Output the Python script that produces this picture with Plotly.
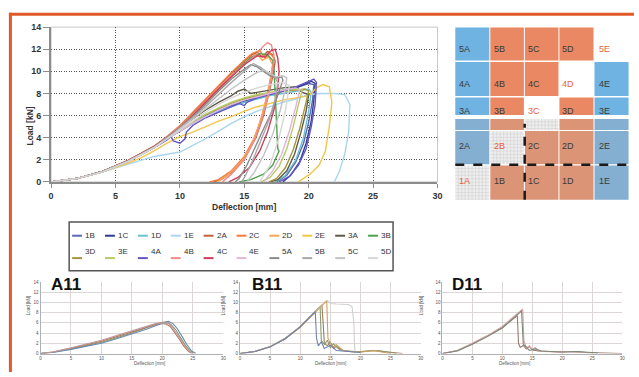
import plotly.graph_objects as go

W, H = 639, 377


def fx(px):
    return px / W


def fy(py):
    return 1 - py / H


# ---------------- main chart data (Deflection [mm], Load [kN]) ----------------
names = ["1B", "1C", "1D", "1E", "2A", "2C", "2D", "2E", "3A", "3B",
         "3D", "3E", "4A", "4B", "4C", "4E", "5A", "5B", "5C", "5D"]
colors = ["#5b67b9", "#2e3b8f", "#68c3cf", "#a9d5f0", "#c45f3c", "#f27c3c", "#f6a65a", "#f2c64a", "#5e5a4a", "#4ea24e",
          "#a6963c", "#b6cb62", "#6456c6", "#f28b8b", "#cc3f5c", "#e2b6d8", "#8a8a8a", "#a8a8a8", "#c2c2c2", "#d6d6d6"]

x_1B = [0, 2, 4, 6, 8, 9, 10, 11, 12, 13, 14, 15, 16, 17, 18, 19, 20, 20.4, 20.3, 20.0, 19.6, 19.0, 18.3, 17.5]
y_1B = [0, 0.3, 0.95, 1.9, 3.15, 3.95, 4.7, 5.4, 6.0, 6.5, 6.9, 7.2, 7.6, 7.9, 8.2, 8.5, 8.9, 8.8, 7.4, 5.4, 3.5, 1.8, 0.6, 0]
x_1C = [0, 2, 4, 6, 8, 9, 10, 11, 12, 13, 14, 15, 16, 17, 18, 19, 19.6, 20.2, 20.5, 20.4, 20.2, 19.8, 19.3, 18.6, 18.0]
y_1C = [0, 0.3, 0.9, 1.85, 3.1, 3.9, 4.6, 5.3, 5.9, 6.4, 6.9, 7.3, 7.7, 8.0, 8.3, 8.5, 8.8, 9.1, 8.9, 7.4, 5.5, 3.5, 1.8, 0.6, 0]
x_1D = [0, 2, 4, 6, 8, 9, 10, 11, 12, 13, 14, 15, 16, 17, 18, 19, 20, 20.2, 20.0, 19.6, 19.0, 18.2, 17.4]
y_1D = [0, 0.3, 0.95, 1.9, 3.15, 3.9, 4.6, 5.3, 5.9, 6.4, 6.8, 7.2, 7.5, 7.8, 8.0, 8.2, 8.4, 8.1, 6.4, 4.0, 2.0, 0.6, 0]
x_1E = [0, 2, 4, 6, 7, 8, 9, 10, 11, 12, 13, 14, 15, 16, 17, 18, 19, 20, 21, 22, 22.8, 23.2, 23.1, 22.8, 22.4, 22.0]
y_1E = [0, 0.3, 0.9, 1.6, 2.0, 2.3, 2.5, 2.7, 3.3, 3.9, 4.6, 5.3, 5.9, 6.4, 6.8, 7.2, 7.5, 7.9, 8.0, 8.0, 7.9, 7.0, 4.5, 2.5, 1.0, 0]
x_2A = [0, 2, 4, 6, 8, 9, 10, 11, 12, 13, 14, 15, 15.6, 16.0, 16.4, 16.8, 17.2, 17.4, 17.2, 16.9, 16.5, 15.9, 15.1, 14.2, 13.2, 12.6]
y_2A = [0, 0.3, 0.95, 1.95, 3.2, 4.05, 5.0, 6.2, 7.4, 8.6, 9.8, 10.9, 11.5, 11.7, 11.3, 11.8, 11.5, 10.9, 9.5, 8.0, 6.0, 4.0, 2.3, 1.0, 0.2, 0]
x_2C = [0, 2, 4, 6, 8, 9, 10, 11, 12, 13, 14, 15, 15.6, 16.2, 16.6, 17.0, 17.3, 17.1, 16.8, 16.4, 15.8, 15.0, 14.0, 13.0, 12.3]
y_2C = [0, 0.3, 0.95, 1.95, 3.25, 4.1, 5.1, 6.3, 7.5, 8.7, 9.9, 11.0, 11.6, 11.9, 11.2, 11.6, 11.2, 9.8, 8.0, 6.0, 4.0, 2.3, 1.0, 0.2, 0]
x_2D = [0, 2, 4, 6, 8, 9, 10, 11, 12, 13, 14, 15, 15.5, 16.0, 16.4, 16.9, 17.2, 17.0, 16.6, 16.1, 15.5, 14.7, 13.7, 12.9]
y_2D = [0, 0.3, 0.95, 1.9, 3.2, 4.0, 4.9, 6.0, 7.1, 8.3, 9.5, 10.6, 11.2, 11.6, 11.0, 11.3, 10.6, 9.0, 7.0, 5.0, 3.2, 1.7, 0.6, 0]
x_2E = [0, 2, 4, 6, 7, 8, 9, 10, 11, 12, 13, 14, 15, 16, 17, 18, 19, 20, 20.6, 21.1, 21.6, 21.8, 21.6, 21.3, 20.8, 20.1, 19.2]
y_2E = [0, 0.3, 0.9, 1.7, 2.2, 2.8, 3.5, 4.1, 4.5, 5.0, 5.5, 5.9, 6.4, 6.8, 7.1, 7.4, 7.6, 7.8, 8.5, 8.8, 8.6, 7.2, 5.0, 2.8, 1.5, 0.7, 0]
x_3A = [0, 2, 4, 6, 8, 9, 10, 11, 12, 13, 14, 14.5, 15, 15.5, 16, 17, 18, 19, 19.5, 20.0, 19.8, 19.4, 18.9, 18.3, 17.6, 17.0]
y_3A = [0, 0.3, 0.95, 1.9, 3.2, 4.0, 4.9, 5.7, 6.5, 7.2, 7.8, 8.2, 8.4, 8.0, 8.1, 8.3, 8.5, 8.6, 8.1, 7.9, 6.4, 4.5, 2.5, 1.0, 0.2, 0]
x_3B = [0, 2, 4, 6, 8, 9, 10, 11, 12, 13, 14, 15, 15.6, 16.2, 16.8, 17.2, 17.3, 17.4, 17.5, 17.6, 17.7, 17.2, 16.5, 15.5, 14.6]
y_3B = [0, 0.3, 0.95, 1.95, 3.2, 4.0, 5.0, 6.1, 7.2, 8.4, 9.6, 10.7, 11.3, 11.6, 11.5, 11.0, 10.2, 8.0, 5.0, 3.0, 2.8, 1.5, 0.7, 0.2, 0]
x_3D = [0, 2, 4, 6, 8, 9, 10, 11, 12, 13, 14, 15, 16, 17, 18, 19, 19.7, 20.0, 19.7, 19.3, 18.8, 18.2, 17.5, 16.9]
y_3D = [0, 0.3, 0.9, 1.9, 3.1, 3.9, 4.7, 5.4, 6.1, 6.6, 7.1, 7.5, 7.8, 8.0, 8.2, 8.3, 8.4, 8.2, 6.8, 4.8, 2.9, 1.3, 0.3, 0]
x_3E = [0, 2, 4, 6, 8, 9, 10, 11, 12, 13, 14, 15, 16, 17, 18, 19, 19.5, 19.2, 18.8, 18.3, 17.7, 17.0, 16.3]
y_3E = [0, 0.3, 0.9, 1.85, 3.1, 3.9, 4.7, 5.4, 6.1, 6.7, 7.2, 7.6, 7.9, 8.1, 8.3, 8.4, 8.3, 7.0, 5.0, 3.0, 1.4, 0.4, 0]
x_4A = [0, 2, 4, 6, 8, 9, 9.3, 9.5, 10.0, 10.4, 10.5, 11, 12, 13, 14, 14.6, 15.0, 15.2, 16, 17, 18, 19, 20, 20.4, 20.6, 20.5, 20.2, 19.8, 19.2, 18.5, 17.7]
y_4A = [0, 0.3, 0.95, 1.9, 3.1, 3.8, 4.1, 3.7, 3.5, 3.9, 4.5, 5.1, 5.8, 6.3, 6.8, 7.1, 6.9, 7.2, 7.6, 7.9, 8.2, 8.6, 9.1, 9.3, 9.0, 7.0, 5.0, 3.0, 1.5, 0.5, 0]
x_4B = [0, 2, 4, 6, 8, 9, 10, 11, 12, 13, 14, 15, 16, 16.5, 16.8, 17.1, 17.3, 17.2, 16.9, 16.4, 15.8, 15.0, 14.0, 13.3]
y_4B = [0, 0.3, 0.95, 1.95, 3.2, 4.05, 5.0, 6.1, 7.3, 8.5, 9.6, 10.6, 11.6, 12.3, 12.6, 12.4, 11.5, 10.0, 8.0, 5.8, 3.8, 2.0, 0.7, 0]
x_4C = [0, 2, 4, 6, 8, 9, 10, 11, 12, 13, 14, 15, 16, 16.6, 17.0, 17.4, 17.6, 17.7, 17.6, 17.3, 16.8, 16.2, 15.4, 14.5, 13.8]
y_4C = [0, 0.3, 0.95, 1.95, 3.2, 4.0, 4.9, 6.0, 7.2, 8.4, 9.5, 10.6, 11.4, 11.3, 11.8, 12.0, 11.2, 10.0, 8.5, 6.5, 4.5, 2.8, 1.3, 0.4, 0]
x_4E = [0, 2, 4, 6, 8, 9, 10, 11, 12, 13, 14, 15, 16, 17, 18, 19, 19.3, 19.0, 18.5, 17.9, 17.2, 16.5]
y_4E = [0, 0.3, 0.9, 1.85, 3.1, 3.9, 4.6, 5.3, 5.9, 6.5, 7.0, 7.4, 7.7, 8.0, 8.3, 8.5, 8.3, 6.8, 4.6, 2.5, 1.0, 0]
x_5A = [0, 2, 4, 6, 8, 9, 10, 11, 12, 13, 14, 15, 15.5, 16, 16.5, 17, 17.5, 17.9, 18.0, 17.8, 17.2, 16.5, 15.8, 15.2, 14.6, 14.3]
y_5A = [0, 0.3, 0.95, 1.9, 3.15, 4.0, 4.9, 5.9, 7.0, 8.2, 9.3, 10.2, 10.6, 10.4, 10.0, 9.6, 9.4, 9.5, 9.2, 8.5, 6.5, 4.8, 3.0, 1.5, 0.3, 0]
x_5B = [0, 2, 4, 6, 8, 9, 10, 11, 12, 13, 14, 15, 15.7, 16.2, 16.8, 17.3, 17.6, 17.4, 16.9, 16.2, 15.6, 15.1, 14.8]
y_5B = [0, 0.3, 0.95, 1.9, 3.15, 3.95, 4.85, 5.8, 6.8, 7.9, 9.0, 10.0, 10.7, 10.4, 9.9, 9.6, 9.0, 7.5, 5.5, 3.5, 1.8, 0.6, 0]
x_5C = [0, 2, 4, 6, 8, 9, 10, 11, 12, 13, 14, 15, 16, 16.5, 17, 17.5, 18.0, 18.3, 18.2, 17.8, 17.2, 16.5, 15.8, 15.2]
y_5C = [0, 0.3, 0.9, 1.85, 3.1, 3.9, 4.8, 5.7, 6.6, 7.5, 8.4, 9.2, 9.9, 10.1, 9.8, 9.5, 9.6, 9.4, 8.5, 6.5, 4.3, 2.4, 0.9, 0]
x_5D = [0, 2, 4, 6, 8, 9, 10, 11, 12, 13, 14, 15, 16, 17, 18, 18.5, 18.2, 17.7, 17.0, 16.2]
y_5D = [0, 0.3, 0.9, 1.85, 3.1, 3.9, 4.7, 5.5, 6.3, 7.0, 7.6, 8.1, 8.5, 8.8, 9.0, 8.7, 6.5, 4.0, 1.5, 0]

main_x = [x_1B, x_1C, x_1D, x_1E, x_2A, x_2C, x_2D, x_2E, x_3A, x_3B,
          x_3D, x_3E, x_4A, x_4B, x_4C, x_4E, x_5A, x_5B, x_5C, x_5D]
main_y = [y_1B, y_1C, y_1D, y_1E, y_2A, y_2C, y_2D, y_2E, y_3A, y_3B,
          y_3D, y_3E, y_4A, y_4B, y_4C, y_4E, y_5A, y_5B, y_5C, y_5D]

x_ticks = [0, 5, 10, 15, 20, 25, 30]
y_ticks = [0, 2, 4, 6, 8, 10, 12, 14]

# ---------------- small charts ----------------
a11_x = [
    [0, 2, 5, 7.5, 10, 12.5, 15, 17.5, 19, 20, 20.8, 21.5, 22.3, 23, 23.8, 24.5, 25.2],
    [0, 2, 5, 7.5, 10, 12.5, 15, 17.5, 19, 20, 20.5, 21.3, 22.0, 22.8, 23.5, 24.2, 24.8],
    [0, 2, 5, 7.5, 10, 12.5, 15, 17.5, 19, 20.2, 21, 21.8, 22.5, 23.2, 24.0, 24.8, 25.5],
    [0, 2, 5, 7.5, 10, 12.5, 15, 17.5, 19, 20, 21, 21.7, 22.4, 23.1, 23.9, 24.6, 25.0],
]
a11_y = [
    [0, 0.25, 0.9, 1.5, 2.2, 3.1, 4.0, 5.1, 5.8, 6.1, 6.2, 5.6, 4.5, 3.1, 1.6, 0.6, 0],
    [0, 0.3, 1.0, 1.7, 2.4, 3.3, 4.2, 5.2, 5.7, 5.9, 5.8, 5.3, 4.2, 2.8, 1.5, 0.5, 0],
    [0, 0.2, 0.8, 1.4, 2.0, 2.9, 3.8, 4.8, 5.5, 6.0, 6.3, 5.8, 4.8, 3.4, 1.8, 0.5, 0],
    [0, 0.3, 1.1, 1.8, 2.6, 3.5, 4.4, 5.4, 5.9, 6.0, 5.9, 5.0, 3.8, 2.5, 1.2, 0.3, 0],
]
a11_colors = ["#8a9a70", "#b07a60", "#6a8ab0", "#c09a9a"]

b11_x = [
    [0, 2.5, 5, 7.5, 10, 12, 13, 13.6, 13.8, 14.0, 14.5, 15, 15.5, 16, 17, 18, 20, 22, 23, 25, 27],
    [0, 2.5, 5, 7.5, 10, 12, 13, 13.3, 13.5, 14, 14.5, 15, 15.5, 16.5, 17.5, 19, 21, 23, 24, 26],
    [0, 2.5, 5, 7.5, 10, 12, 13, 14, 14.5, 15, 16, 17, 18, 18.6, 18.9, 19.0, 19.1],
    [0, 2.5, 5, 7.5, 10, 12, 13, 14, 14.4, 14.6, 15, 15.5, 16, 17, 18, 20, 22, 22.5, 23.5, 25],
    [0, 2.5, 5, 7.5, 10, 12, 12.5, 12.7, 13, 13.5, 14, 15, 16, 18, 20],
]
b11_y = [
    [0, 0.4, 1.3, 2.9, 5.2, 7.6, 8.8, 9.5, 6.0, 2.0, 1.5, 2.2, 1.0, 1.4, 0.6, 0.5, 0.3, 0.6, 0.5, 0.3, 0],
    [0, 0.45, 1.35, 3.0, 5.3, 7.7, 8.9, 9.2, 2.5, 1.8, 2.6, 1.2, 1.9, 0.8, 0.5, 0.3, 0.5, 0.6, 0.4, 0],
    [0, 0.4, 1.3, 2.9, 5.2, 7.6, 8.9, 10.0, 10.4, 9.8, 9.7, 9.7, 9.6, 9.2, 6.0, 2.0, 0],
    [0, 0.4, 1.3, 2.9, 5.1, 7.5, 8.8, 10.0, 10.3, 3.0, 2.0, 1.3, 1.7, 0.7, 0.4, 0.3, 0.5, 0.6, 0.3, 0],
    [0, 0.4, 1.3, 2.9, 5.2, 7.6, 8.2, 3.0, 1.5, 2.3, 1.0, 1.6, 0.6, 0.4, 0.2],
]
b11_colors = ["#a07a60", "#8a9a70", "#cfcfcf", "#d0a060", "#7080b0"]

d11_x = [
    [0, 2.5, 5, 7.5, 10, 11.5, 12.5, 12.7, 13, 13.5, 14, 14.5, 15, 16, 18, 20, 22, 24, 27, 30],
    [0, 2.5, 5, 7.5, 10, 12, 13, 13.4, 13.6, 14, 14.5, 15, 15.5, 16, 17, 19, 21, 23, 25],
    [0, 2.5, 5, 7.5, 10, 12, 13, 13.2, 13.5, 14, 14.5, 15.5, 16.5, 18, 20, 22.5, 26],
]
d11_y = [
    [0, 0.6, 1.9, 3.4, 5.1, 6.4, 7.4, 2.0, 1.2, 1.6, 0.9, 1.4, 0.7, 0.5, 0.4, 0.3, 0.4, 0.2, 0.1, 0],
    [0, 0.6, 2.0, 3.5, 5.3, 7.2, 8.3, 8.7, 2.5, 1.0, 1.5, 0.8, 1.2, 0.5, 0.4, 0.3, 0.4, 0.3, 0.1],
    [0, 0.5, 1.8, 3.3, 5.0, 7.0, 8.1, 8.4, 1.8, 1.3, 0.6, 0.9, 0.5, 0.4, 0.3, 0.4, 0.1],
]
d11_colors = ["#9a7a70", "#d8a0a0", "#7a8a7a"]

small_titles = ["A11", "B11", "D11"]

# ---------------- specimen grid ----------------
grid_labels = [
    ["5A", "5B", "5C", "5D", "5E"],
    ["4A", "4B", "4C", "4D", "4E"],
    ["3A", "3B", "3C", "3D", "3E"],
    ["", "", "", "", ""],
    ["2A", "2B", "2C", "2D", "2E"],
    ["1A", "1B", "1C", "1D", "1E"],
]
grid_kinds = [
    ["b", "o", "o", "o", "w"],
    ["b", "o", "o", "w", "b"],
    ["b", "o", "w", "o", "b"],
    ["B", "O", "p", "O", "B"],
    ["B", "p", "O", "O", "B"],
    ["p", "O", "O", "O", "B"],
]

# ================= figure =================
fig = go.Figure()

for nm, c, xs, ys in zip(names, colors, main_x, main_y):
    fig.add_trace(go.Scatter(x=xs, y=ys, mode="lines", name=nm,
                             line=dict(color=c, width=1.4), xaxis="x", yaxis="y",
                             showlegend=False))

for k, (xl, yl, cl) in enumerate([(a11_x, a11_y, a11_colors), (b11_x, b11_y, b11_colors),
                                  (d11_x, d11_y, d11_colors)]):
    ax = str(k + 2)
    for xs, ys, c in zip(xl, yl, cl):
        fig.add_trace(go.Scatter(x=xs, y=ys, mode="lines", line=dict(color=c, width=1.1),
                                 xaxis="x" + ax, yaxis="y" + ax, showlegend=False))

FONT = "Liberation Sans, Arial, sans-serif"

main_x_dom = [fx(48.7), fx(440)]
main_y_dom = [fy(181.7), fy(22.7)]

layout = dict(
    width=W, height=H, margin=dict(l=0, r=0, t=0, b=0),
    paper_bgcolor="white", plot_bgcolor="white", showlegend=False,
    font=dict(family=FONT, color="#333"),
    xaxis=dict(domain=main_x_dom, range=[0, 30], tickvals=x_ticks, showgrid=True,
               gridcolor="#555555", griddash="1px,1.5px", gridwidth=1, zeroline=False,
               showline=True, linecolor="#8c8c8c", linewidth=2, ticks="outside", ticklen=4,
               tickcolor="#8c8c8c", tickfont=dict(size=9, color="#333", weight="bold"),
               anchor="y"),
    yaxis=dict(domain=main_y_dom, range=[0, 14], tickvals=y_ticks, showgrid=True,
               gridcolor="#555555", griddash="1px,1.5px", gridwidth=1, zeroline=False,
               showline=True, linecolor="#8c8c8c", linewidth=2, ticks="outside", ticklen=6,
               tickcolor="#8c8c8c", tickfont=dict(size=9, color="#333", weight="bold"),
               anchor="x"),
)

small_doms = [(38, 223), (240, 423), (445, 627)]
for k, (l, r) in enumerate(small_doms):
    ax = str(k + 2)
    layout["xaxis" + ax] = dict(domain=[fx(l), fx(r)], range=[0, 30], tickvals=x_ticks,
                                showgrid=True, gridcolor="#ddd6d6", gridwidth=1, zeroline=False,
                                showline=True, linecolor="#b0b0b0", linewidth=1,
                                tickfont=dict(size=4.5, color="#555"), anchor="y" + ax)
    layout["yaxis" + ax] = dict(domain=[fy(358), fy(284.5)], range=[0, 14], tickvals=y_ticks,
                                showgrid=True, gridcolor="#ddd6d6", gridwidth=1, zeroline=False,
                                showline=True, linecolor="#b0b0b0", linewidth=1,
                                tickfont=dict(size=4.5, color="#555"), anchor="x" + ax)

shapes = []
annotations = []

# main plot frame (top/right)
shapes.append(dict(type="rect", xref="paper", yref="paper", x0=main_x_dom[0], x1=main_x_dom[1],
                   y0=main_y_dom[0], y1=main_y_dom[1], line=dict(color="#c8c8c8", width=1),
                   layer="below"))

# main axis titles
annotations.append(dict(x=fx(244), y=fy(208), xref="paper", yref="paper", text="Deflection [mm]",
                        showarrow=False, font=dict(size=8.5, color="#333", weight="bold")))
annotations.append(dict(x=fx(20), y=fy(102), xref="paper", yref="paper", text="Load [kN]",
                        showarrow=False, textangle=-90, font=dict(size=8.5, color="#333", weight="bold")))

# small chart titles / axis titles
for k, (l, r) in enumerate(small_doms):
    tx = [47, 250, 453][k]
    annotations.append(dict(x=fx(tx), y=fy(299), xref="paper", yref="paper", text=small_titles[k],
                            xanchor="left", showarrow=False,
                            font=dict(size=17, color="#111", weight="bold")))
    annotations.append(dict(x=fx((l + r) / 2), y=fy(372.5), xref="paper", yref="paper",
                            text="Deflection [mm]", showarrow=False, font=dict(size=4.5, color="#555")))
    annotations.append(dict(x=fx(l - 16), y=fy(321), xref="paper", yref="paper",
                            text="Load [kN]", textangle=-90, showarrow=False,
                            font=dict(size=4.5, color="#555")))

# legend (manual, compact)
shapes.append(dict(type="rect", xref="paper", yref="paper", x0=fx(67), x1=fx(395),
                   y0=fy(273), y1=fy(223), line=dict(color="#555", width=1.5), fillcolor="white"))
for i, (nm, c) in enumerate(zip(names, colors)):
    row, col = divmod(i, 10)
    x0 = 70 + col * 33.3
    yy = 237 + row * 23
    shapes.append(dict(type="line", xref="paper", yref="paper", x0=fx(x0), x1=fx(x0 + 10),
                       y0=fy(yy), y1=fy(yy), line=dict(color=c, width=2)))
    annotations.append(dict(x=fx(x0 + 11), y=fy(yy), xref="paper", yref="paper", text=nm,
                            xanchor="left", showarrow=False,
                            font=dict(size=8, color="#333")))

# specimen grid
col_edges = [458, 493.5, 528.5, 563.5, 599, 634.5]
row_edges = [(23, 57), (58.5, 93.5), (95, 113), (117, 128.5), (129.5, 163.5), (165, 200)]
fill = {"b": "#6fb3e2", "o": "#ea8863", "w": "white", "B": "#85afd0", "O": "#db9576", "p": "#eeeeee"}
for r, (t, b) in enumerate(row_edges):
    for c in range(5):
        kind = grid_kinds[r][c]
        l, rr = col_edges[c], col_edges[c + 1] - 1
        shapes.append(dict(type="rect", xref="paper", yref="paper", x0=fx(l), x1=fx(rr),
                           y0=fy(b), y1=fy(t), line=dict(width=0), fillcolor=fill[kind],
                           layer="below"))
        if kind == "p":
            gx = l + 3
            while gx < rr:
                shapes.append(dict(type="line", xref="paper", yref="paper", x0=fx(gx), x1=fx(gx),
                                   y0=fy(b), y1=fy(t), line=dict(color="#d2d2d2", width=0.6),
                                   layer="below"))
                gx += 3.5
            gy = t + 3
            while gy < b:
                shapes.append(dict(type="line", xref="paper", yref="paper", x0=fx(l), x1=fx(rr),
                                   y0=fy(gy), y1=fy(gy), line=dict(color="#d2d2d2", width=0.6),
                                   layer="below"))
                gy += 3.5
        lab = grid_labels[r][c]
        if lab:
            tc = "#e8603c" if kind in ("w", "p") else "#3a3a3a"
            annotations.append(dict(x=fx((l + rr) / 2), y=fy((t + b) / 2 - 2), xref="paper",
                                    yref="paper", text=lab, showarrow=False,
                                    font=dict(size=9, color=tc)))

# dashed cut lines on the specimen
shapes.append(dict(type="line", xref="paper", yref="paper", x0=fx(458), x1=fx(634),
                   y0=fy(164), y1=fy(164), line=dict(color="#1a1a1a", width=2.5, dash="dash")))
shapes.append(dict(type="line", xref="paper", yref="paper", x0=fx(528.3), x1=fx(528.3),
                   y0=fy(200), y1=fy(122), line=dict(color="#1a1a1a", width=2.5, dash="dash")))

# orange frame
shapes.append(dict(type="line", xref="paper", yref="paper", x0=fx(6), x1=1,
                   y0=fy(9.5), y1=fy(9.5), line=dict(color="#e2582a", width=3)))
shapes.append(dict(type="line", xref="paper", yref="paper", x0=fx(7.5), x1=fx(7.5),
                   y0=0, y1=fy(8), line=dict(color="#e2582a", width=3)))

layout["shapes"] = shapes
layout["annotations"] = annotations
fig.update_layout(**layout)

fig.write_html("out.html", config={"displayModeBar": False},
               post_script="document.body.style.margin='0px';document.body.style.overflow='hidden';")
